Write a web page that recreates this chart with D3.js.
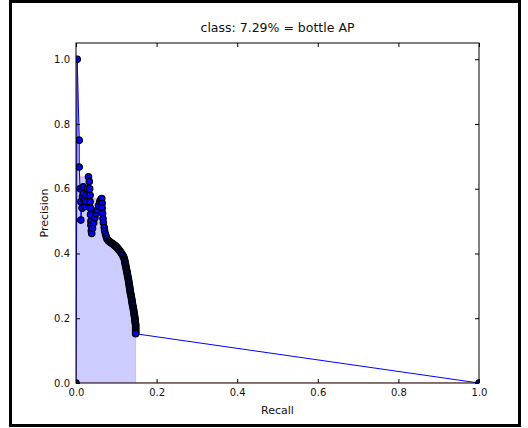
<!DOCTYPE html>
<html>
<head>
<meta charset="utf-8">
<script src="https://cdn.jsdelivr.net/npm/d3@7"></script>
<style>
  body { margin: 0; background: #fff; }
  svg text { font-family: "DejaVu Sans", sans-serif; fill: #111; }
</style>
</head>
<body>
<svg id="chart"></svg>
<script>
// precision / recall points as plotted (voc_ap style, with the 0 and 1 ends)
const recall = [
  0.000, 0.003, 0.008, 0.008, 0.010, 0.012, 0.012, 0.015, 0.016, 0.018,
  0.018, 0.020, 0.022, 0.024, 0.026, 0.028, 0.031, 0.033, 0.034, 0.035,
  0.035, 0.036, 0.036, 0.037, 0.037, 0.038, 0.039, 0.041, 0.044, 0.047,
  0.050, 0.053, 0.056, 0.059, 0.062, 0.064, 0.065, 0.065, 0.066, 0.067,
  0.068, 0.070, 0.071, 0.073, 0.075, 0.077,
  0.080, 0.082, 0.084, 0.086, 0.088, 0.090, 0.092, 0.094, 0.096, 0.098,
  0.100, 0.102, 0.104, 0.106, 0.108, 0.110, 0.112, 0.114, 0.116,
  0.118, 0.119, 0.120, 0.121, 0.121, 0.122, 0.123, 0.123, 0.124, 0.125,
  0.125, 0.126, 0.127, 0.127, 0.128, 0.128, 0.129, 0.130, 0.130, 0.131,
  0.131, 0.132, 0.132, 0.133, 0.133, 0.134, 0.134, 0.135, 0.135, 0.136,
  0.137, 0.137, 0.138, 0.138, 0.139, 0.139, 0.140, 0.140, 0.141, 0.142,
  0.142, 0.143, 0.143, 0.144, 0.144, 0.145, 0.145, 0.146, 0.146, 0.147,
  0.147, 0.147, 0.148, 0.148, 0.148, 0.148, 0.148, 0.148, 0.148, 0.148,
  0.148, 1.000
];
const precision = [
  0.000, 1.000, 0.750, 0.667, 0.600, 0.560, 0.503, 0.540, 0.575, 0.606,
  0.585, 0.565, 0.545, 0.560, 0.580, 0.600, 0.637, 0.622, 0.600, 0.580,
  0.560, 0.540, 0.520, 0.500, 0.488, 0.470, 0.462, 0.478, 0.495, 0.510,
  0.524, 0.534, 0.548, 0.560, 0.567, 0.570, 0.555, 0.540, 0.524, 0.508,
  0.495, 0.480, 0.470, 0.460, 0.452, 0.445,
  0.440, 0.438, 0.436, 0.434, 0.432, 0.431, 0.429, 0.427, 0.425, 0.423,
  0.421, 0.418, 0.415, 0.412, 0.409, 0.406, 0.402, 0.398, 0.394,
  0.390, 0.386, 0.382, 0.378, 0.374, 0.370, 0.366, 0.362, 0.358, 0.354,
  0.350, 0.346, 0.342, 0.338, 0.334, 0.330, 0.326, 0.322, 0.318, 0.314,
  0.310, 0.306, 0.302, 0.298, 0.294, 0.290, 0.286, 0.282, 0.278, 0.274,
  0.270, 0.266, 0.262, 0.258, 0.254, 0.250, 0.246, 0.242, 0.238, 0.234,
  0.230, 0.226, 0.222, 0.218, 0.214, 0.210, 0.206, 0.202, 0.198, 0.194,
  0.190, 0.186, 0.182, 0.178, 0.174, 0.170, 0.166, 0.162, 0.158, 0.155,
  0.152, 0.000
];
const xTicks = [0, 0.2, 0.4, 0.6, 0.8, 1.0];
const yTicks = [0, 0.2, 0.4, 0.6, 0.8, 1.0];
const title = 'class: 7.29% = bottle AP';

const config = {
  width: 528, height: 428,
  margin: { top: 43, right: 49, bottom: 45, left: 76 }
};
const innerW = config.width - config.margin.left - config.margin.right;
const innerH = config.height - config.margin.top - config.margin.bottom;

const svg = d3.select('#chart')
  .attr('width', config.width)
  .attr('height', config.height);

// outer black frame of the screenshot
svg.append('rect')
  .attr('x', 10.5).attr('y', 1.5)
  .attr('width', 509).attr('height', 424)
  .attr('fill', 'none')
  .attr('stroke', '#000')
  .attr('stroke-width', 3);

const chart = svg.append('g')
  .attr('transform', `translate(${config.margin.left},${config.margin.top})`);

const xScale = d3.scaleLinear().domain([0, 1]).range([0, innerW]);
const yScale = d3.scaleLinear().domain([0, 1.05]).range([innerH, 0]);

chart.append('clipPath').attr('id', 'clip')
  .append('rect').attr('width', innerW).attr('height', innerH);

const plot = chart.append('g').attr('clip-path', 'url(#clip)');

// interpolated (monotone) precision for the shaded area
const pts = recall.map((r, i) => ({ r: r, p: precision[i] }));
const env = precision.slice();
for (let i = env.length - 2; i >= 0; i--) env[i] = Math.max(env[i], env[i + 1]);
const n = recall.length;
const areaPts = recall.slice(0, n - 1).map((r, i) => [r, env[i]]);
areaPts.push([recall[n - 2], 0]);
areaPts.push([recall[n - 1], env[n - 1]]);

plot.append('path')
  .datum(areaPts)
  .attr('d', d3.area()
    .x(d => xScale(d[0]))
    .y0(yScale(0))
    .y1(d => yScale(d[1])))
  .attr('fill', 'rgba(0,0,255,0.2)')
  .attr('stroke', 'rgba(255,0,0,0.2)')
  .attr('stroke-width', 1);

plot.append('path')
  .datum(pts)
  .attr('d', d3.line().x(d => xScale(d.r)).y(d => yScale(d.p)))
  .attr('fill', 'none')
  .attr('stroke', '#0000ff')
  .attr('stroke-width', 1);

plot.selectAll('.point')
  .data(pts)
  .join('circle')
  .attr('class', 'point')
  .attr('cx', d => xScale(d.r))
  .attr('cy', d => yScale(d.p))
  .attr('r', 3.2)
  .attr('fill', '#0000ff')
  .attr('stroke', '#000')
  .attr('stroke-width', 1.2);

// axes, ticks inside on all four sides (classic matplotlib)
const fmt = d3.format('.1f');
const xAxis = chart.append('g')
  .attr('transform', `translate(0,${innerH})`)
  .call(d3.axisBottom(xScale).tickValues(xTicks).tickFormat(fmt)
    .tickSizeInner(-4).tickSizeOuter(0).tickPadding(6));
const xAxisTop = chart.append('g')
  .call(d3.axisTop(xScale).tickValues(xTicks).tickFormat('')
    .tickSizeInner(-4).tickSizeOuter(0));
const yAxis = chart.append('g')
  .call(d3.axisLeft(yScale).tickValues(yTicks).tickFormat(fmt)
    .tickSizeInner(-4).tickSizeOuter(0).tickPadding(6));
const yAxisRight = chart.append('g')
  .attr('transform', `translate(${innerW},0)`)
  .call(d3.axisRight(yScale).tickValues(yTicks).tickFormat('')
    .tickSizeInner(-4).tickSizeOuter(0));

[xAxis, xAxisTop, yAxis, yAxisRight].forEach(a => {
  a.select('.domain').remove();
  a.selectAll('line').attr('stroke', '#000');
  a.selectAll('text')
    .style('font-family', '"DejaVu Sans", sans-serif')
    .style('font-size', '10px')
    .attr('fill', '#111');
});

chart.append('rect')
  .attr('width', innerW).attr('height', innerH)
  .attr('fill', 'none')
  .attr('stroke', '#000')
  .attr('stroke-width', 1);

// titles
svg.append('text')
  .attr('x', config.margin.left + innerW / 2)
  .attr('y', 32)
  .attr('text-anchor', 'middle')
  .style('font-size', '12.5px')
  .text(title);

svg.append('text')
  .attr('x', config.margin.left + innerW / 2)
  .attr('y', 414)
  .attr('text-anchor', 'middle')
  .style('font-size', '11px')
  .text('Recall');

svg.append('text')
  .attr('transform', `translate(48,${config.margin.top + innerH / 2}) rotate(-90)`)
  .attr('text-anchor', 'middle')
  .style('font-size', '11px')
  .text('Precision');
</script>
</body>
</html>
